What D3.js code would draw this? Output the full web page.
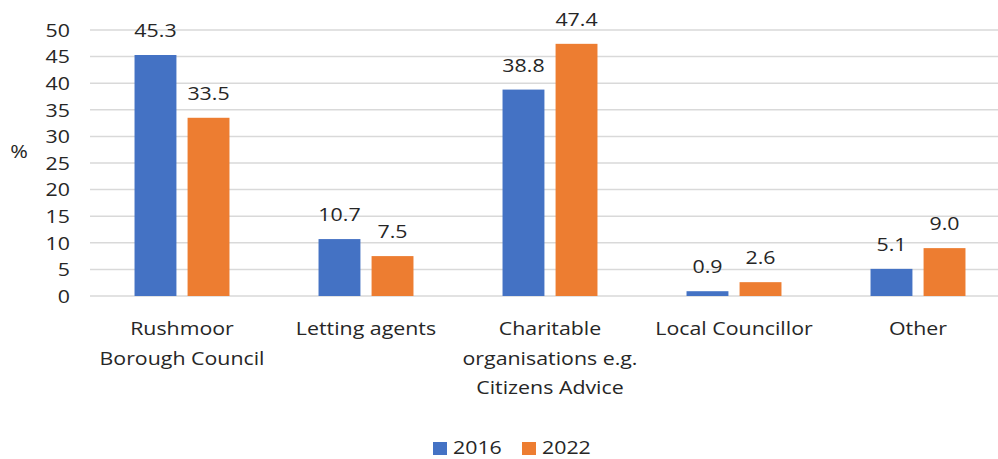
<!DOCTYPE html>
<html>
<head>
<meta charset="utf-8">
<script src="https://cdn.jsdelivr.net/npm/d3@7"></script>
<style>
  body { margin: 0; background: #fff; }
  text { font-family: "Open Sans", "Lato", sans-serif; fill: #262626; font-size: 17.5px; }
</style>
</head>
<body>
<svg id="chart" width="998" height="459"></svg>
<script>
const categories = ["Rushmoor Borough Council", "Letting agents", "Charitable organisations e.g. Citizens Advice", "Local Councillor", "Other"];
const categoryLines = [["Rushmoor", "Borough Council"], ["Letting agents"], ["Charitable", "organisations e.g.", "Citizens Advice"], ["Local Councillor"], ["Other"]];
const seriesNames = ["2016", "2022"];
const values2016 = [45.3, 10.7, 38.8, 0.9, 5.1];
const values2022 = [33.5, 7.5, 47.4, 2.6, 9.0];
const yTicks = [0, 5, 10, 15, 20, 25, 30, 35, 40, 45, 50];
const colors = ["#4472C4", "#ED7D31"];

const svgSpace = d3.select("#chart");
const plotLeft = 90, plotRight = 1010, plotTop = 30, plotBottom = 296;
const stretch = 1.22; // the picture's text is wider than the font

const y = d3.scaleLinear().domain([0, 50]).range([plotBottom, plotTop]);
const x0 = d3.scaleBand().domain(categories).range([plotLeft, plotRight]).paddingInner(0.484).paddingOuter(0.242);
const x1 = d3.scaleBand().domain(seriesNames).range([0, x0.bandwidth()]).paddingInner(0.21);

function addText(parent, txt, x, y, anchor) {
    return parent.append("text")
        .text(txt)
        .attr("transform", `translate(${x},${y}) scale(${stretch},1)`)
        .style("text-anchor", anchor);
}

// gridlines
svgSpace.append("g")
    .selectAll("line")
    .data(yTicks)
    .enter()
    .append("line")
    .attr("x1", plotLeft)
    .attr("x2", plotRight)
    .attr("y1", d => y(d))
    .attr("y2", d => y(d))
    .attr("stroke", "#d9d9d9")
    .attr("stroke-width", 1.5);

// y axis labels
const yAxis = svgSpace.append("g")
    .attr("transform", `translate(${70},0)`)
    .call(d3.axisLeft(y).tickValues(yTicks).tickSize(0).tickPadding(0));
yAxis.select(".domain").remove();
yAxis.selectAll("text")
    .attr("x", 0)
    .attr("dy", "0.36em")
    .attr("transform", `scale(${stretch},1)`)
    .attr("fill", "#262626")
    .style("font-family", "'Open Sans', Lato, sans-serif")
    .style("font-size", "17.5px");

addText(svgSpace, "%", 19, 158, "middle");

// bars
const data = categories.map((c, i) => ({ cat: c, vals: [
    { s: seriesNames[0], v: values2016[i] },
    { s: seriesNames[1], v: values2022[i] }
]}));

const groups = svgSpace.append("g")
    .selectAll("g")
    .data(data)
    .enter()
    .append("g")
    .attr("transform", d => `translate(${x0(d.cat)},0)`);

groups.selectAll("rect")
    .data(d => d.vals)
    .enter()
    .append("rect")
    .attr("x", d => x1(d.s))
    .attr("y", d => y(d.v))
    .attr("width", x1.bandwidth())
    .attr("height", d => y(0) - y(d.v))
    .attr("fill", (d, i) => colors[i]);

groups.each(function(g) {
    g.vals.forEach(d => {
        addText(d3.select(this), d.v.toFixed(1), x1(d.s) + x1.bandwidth() / 2, y(d.v) - 18, "middle");
    });
});

// category labels
categories.forEach((c, i) => {
    categoryLines[i].forEach((line, j) => {
        addText(svgSpace, line, x0(c) + x0.bandwidth() / 2, 335 + j * 29.5, "middle");
    });
});

// legend
const legend = svgSpace.append("g")
    .selectAll("g")
    .data(seriesNames)
    .enter()
    .append("g")
    .attr("transform", (d, i) => `translate(${433 + i * 89},0)`);

legend.append("rect")
    .attr("x", 0)
    .attr("y", 442)
    .attr("width", 14)
    .attr("height", 13)
    .attr("fill", (d, i) => colors[i]);

legend.each(function(d) {
    addText(d3.select(this), d, 20, 454, "start");
});
</script>
</body>
</html>
